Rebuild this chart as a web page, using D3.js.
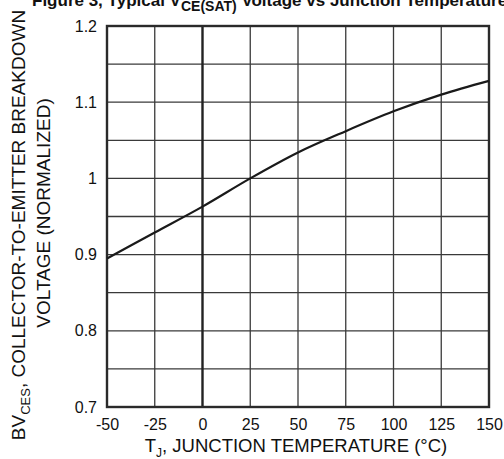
<!DOCTYPE html>
<html>
<head>
<meta charset="utf-8">
<script src="https://cdn.jsdelivr.net/npm/d3@7"></script>
<style>
  body { margin: 0; background: #fff; }
  svg { display: block; font-family: "Liberation Sans", Arial, Helvetica, sans-serif; }
</style>
</head>
<body>
<div id="chart"></div>
<script>
// temperature (°C) vs normalized BVces
var temps = [-50, -25, 0, 25, 50, 75, 100, 125, 150];
var bvces = [0.895, 0.929, 0.963, 1.0, 1.034, 1.062, 1.088, 1.110, 1.128];

var xTicks = [-50, -25, 0, 25, 50, 75, 100, 125, 150];
var xTickLabels = ['-50', '-25', '0', '25', '50', '75', '100', '125', '150'];
var yTicks = [0.7, 0.8, 0.9, 1.0, 1.1, 1.2];
var yTickLabels = ['0.7', '0.8', '0.9', '1', '1.1', '1.2'];
var yGrid = [0.7, 0.75, 0.8, 0.85, 0.9, 0.95, 1.0, 1.05, 1.1, 1.15, 1.2];

var width = 504, height = 459;
var margin = {top: 26, right: 15, bottom: 52, left: 107};

var svg = d3.select('#chart')
    .append('svg')
    .attr('width', width)
    .attr('height', height);

var x = d3.scaleLinear().domain([-50, 150]).range([margin.left, width - margin.right]);
var y = d3.scaleLinear().domain([0.7, 1.2]).range([height - margin.bottom, margin.top]);

// grid
svg.append('g')
    .selectAll('line')
    .data(yGrid)
    .enter()
    .append('line')
    .attr('x1', x(-50))
    .attr('x2', x(150))
    .attr('y1', function(d) { return y(d); })
    .attr('y2', function(d) { return y(d); })
    .attr('stroke', '#3a3a3a')
    .attr('stroke-width', 1.3);

svg.append('g')
    .selectAll('line')
    .data(xTicks)
    .enter()
    .append('line')
    .attr('x1', function(d) { return x(d); })
    .attr('x2', function(d) { return x(d); })
    .attr('y1', y(0.7))
    .attr('y2', y(1.2))
    .attr('stroke', function(d) { return d === 0 ? '#222' : '#3a3a3a'; })
    .attr('stroke-width', function(d) { return d === 0 ? 2.4 : 1.3; });

// frame
svg.append('rect')
    .attr('x', x(-50))
    .attr('y', y(1.2))
    .attr('width', x(150) - x(-50))
    .attr('height', y(0.7) - y(1.2))
    .attr('fill', 'none')
    .attr('stroke', '#2a2a2a')
    .attr('stroke-width', 2.4);

// curve
var line = d3.line()
    .x(function(d, i) { return x(temps[i]); })
    .y(function(d) { return y(d); })
    .curve(d3.curveMonotoneX);

svg.append('path')
    .datum(bvces)
    .attr('d', line)
    .attr('fill', 'none')
    .attr('stroke', '#1a1a1a')
    .attr('stroke-width', 2.2);

// axes
var xAxis = svg.append('g')
    .attr('transform', 'translate(0,' + y(0.7) + ')')
    .call(d3.axisBottom(x).tickValues(xTicks).tickSize(0).tickPadding(12)
        .tickFormat(function(d, i) { return xTickLabels[i]; }));

var yAxis = svg.append('g')
    .attr('transform', 'translate(' + x(-50) + ',0)')
    .call(d3.axisLeft(y).tickValues(yTicks).tickSize(0).tickPadding(10)
        .tickFormat(function(d, i) { return yTickLabels[i]; }));

[xAxis, yAxis].forEach(function(g) {
    g.select('.domain').remove();
    g.selectAll('text')
        .attr('fill', '#111')
        .style('font-size', '16px');
});

// x title
var xt = svg.append('text')
    .attr('x', 296)
    .attr('y', 452)
    .attr('text-anchor', 'middle')
    .attr('fill', '#111')
    .style('font-size', '18.5px');
xt.append('tspan').text('T');
xt.append('tspan').attr('dy', 5).style('font-size', '12px').text('J');
xt.append('tspan').attr('dy', -5).text(', JUNCTION TEMPERATURE (°C)');

// y title, two lines
var yt1 = svg.append('text')
    .attr('transform', 'translate(25,225) rotate(-90)')
    .attr('text-anchor', 'middle')
    .attr('fill', '#111')
    .style('font-size', '19px');
yt1.append('tspan').text('BV');
yt1.append('tspan').attr('dy', 5).style('font-size', '13px').text('CES');
yt1.append('tspan').attr('dy', -5).text(', COLLECTOR-TO-EMITTER BREAKDOWN');

svg.append('text')
    .attr('transform', 'translate(50,213) rotate(-90)')
    .attr('text-anchor', 'middle')
    .attr('fill', '#111')
    .style('font-size', '19px')
    .text('VOLTAGE (NORMALIZED)');

// title (cut off at the top edge like the source)
var title = svg.append('text')
    .attr('x', 32)
    .attr('y', 6)
    .attr('fill', '#111')
    .style('font-size', '17px')
    .style('font-weight', 'bold');
title.append('tspan').text('Figure 3, Typical V');
title.append('tspan').attr('dy', 5).style('font-size', '14px').text('CE(SAT)');
title.append('tspan').attr('dy', -5).text(' Voltage vs Junction Temperature');
</script>
</body>
</html>
